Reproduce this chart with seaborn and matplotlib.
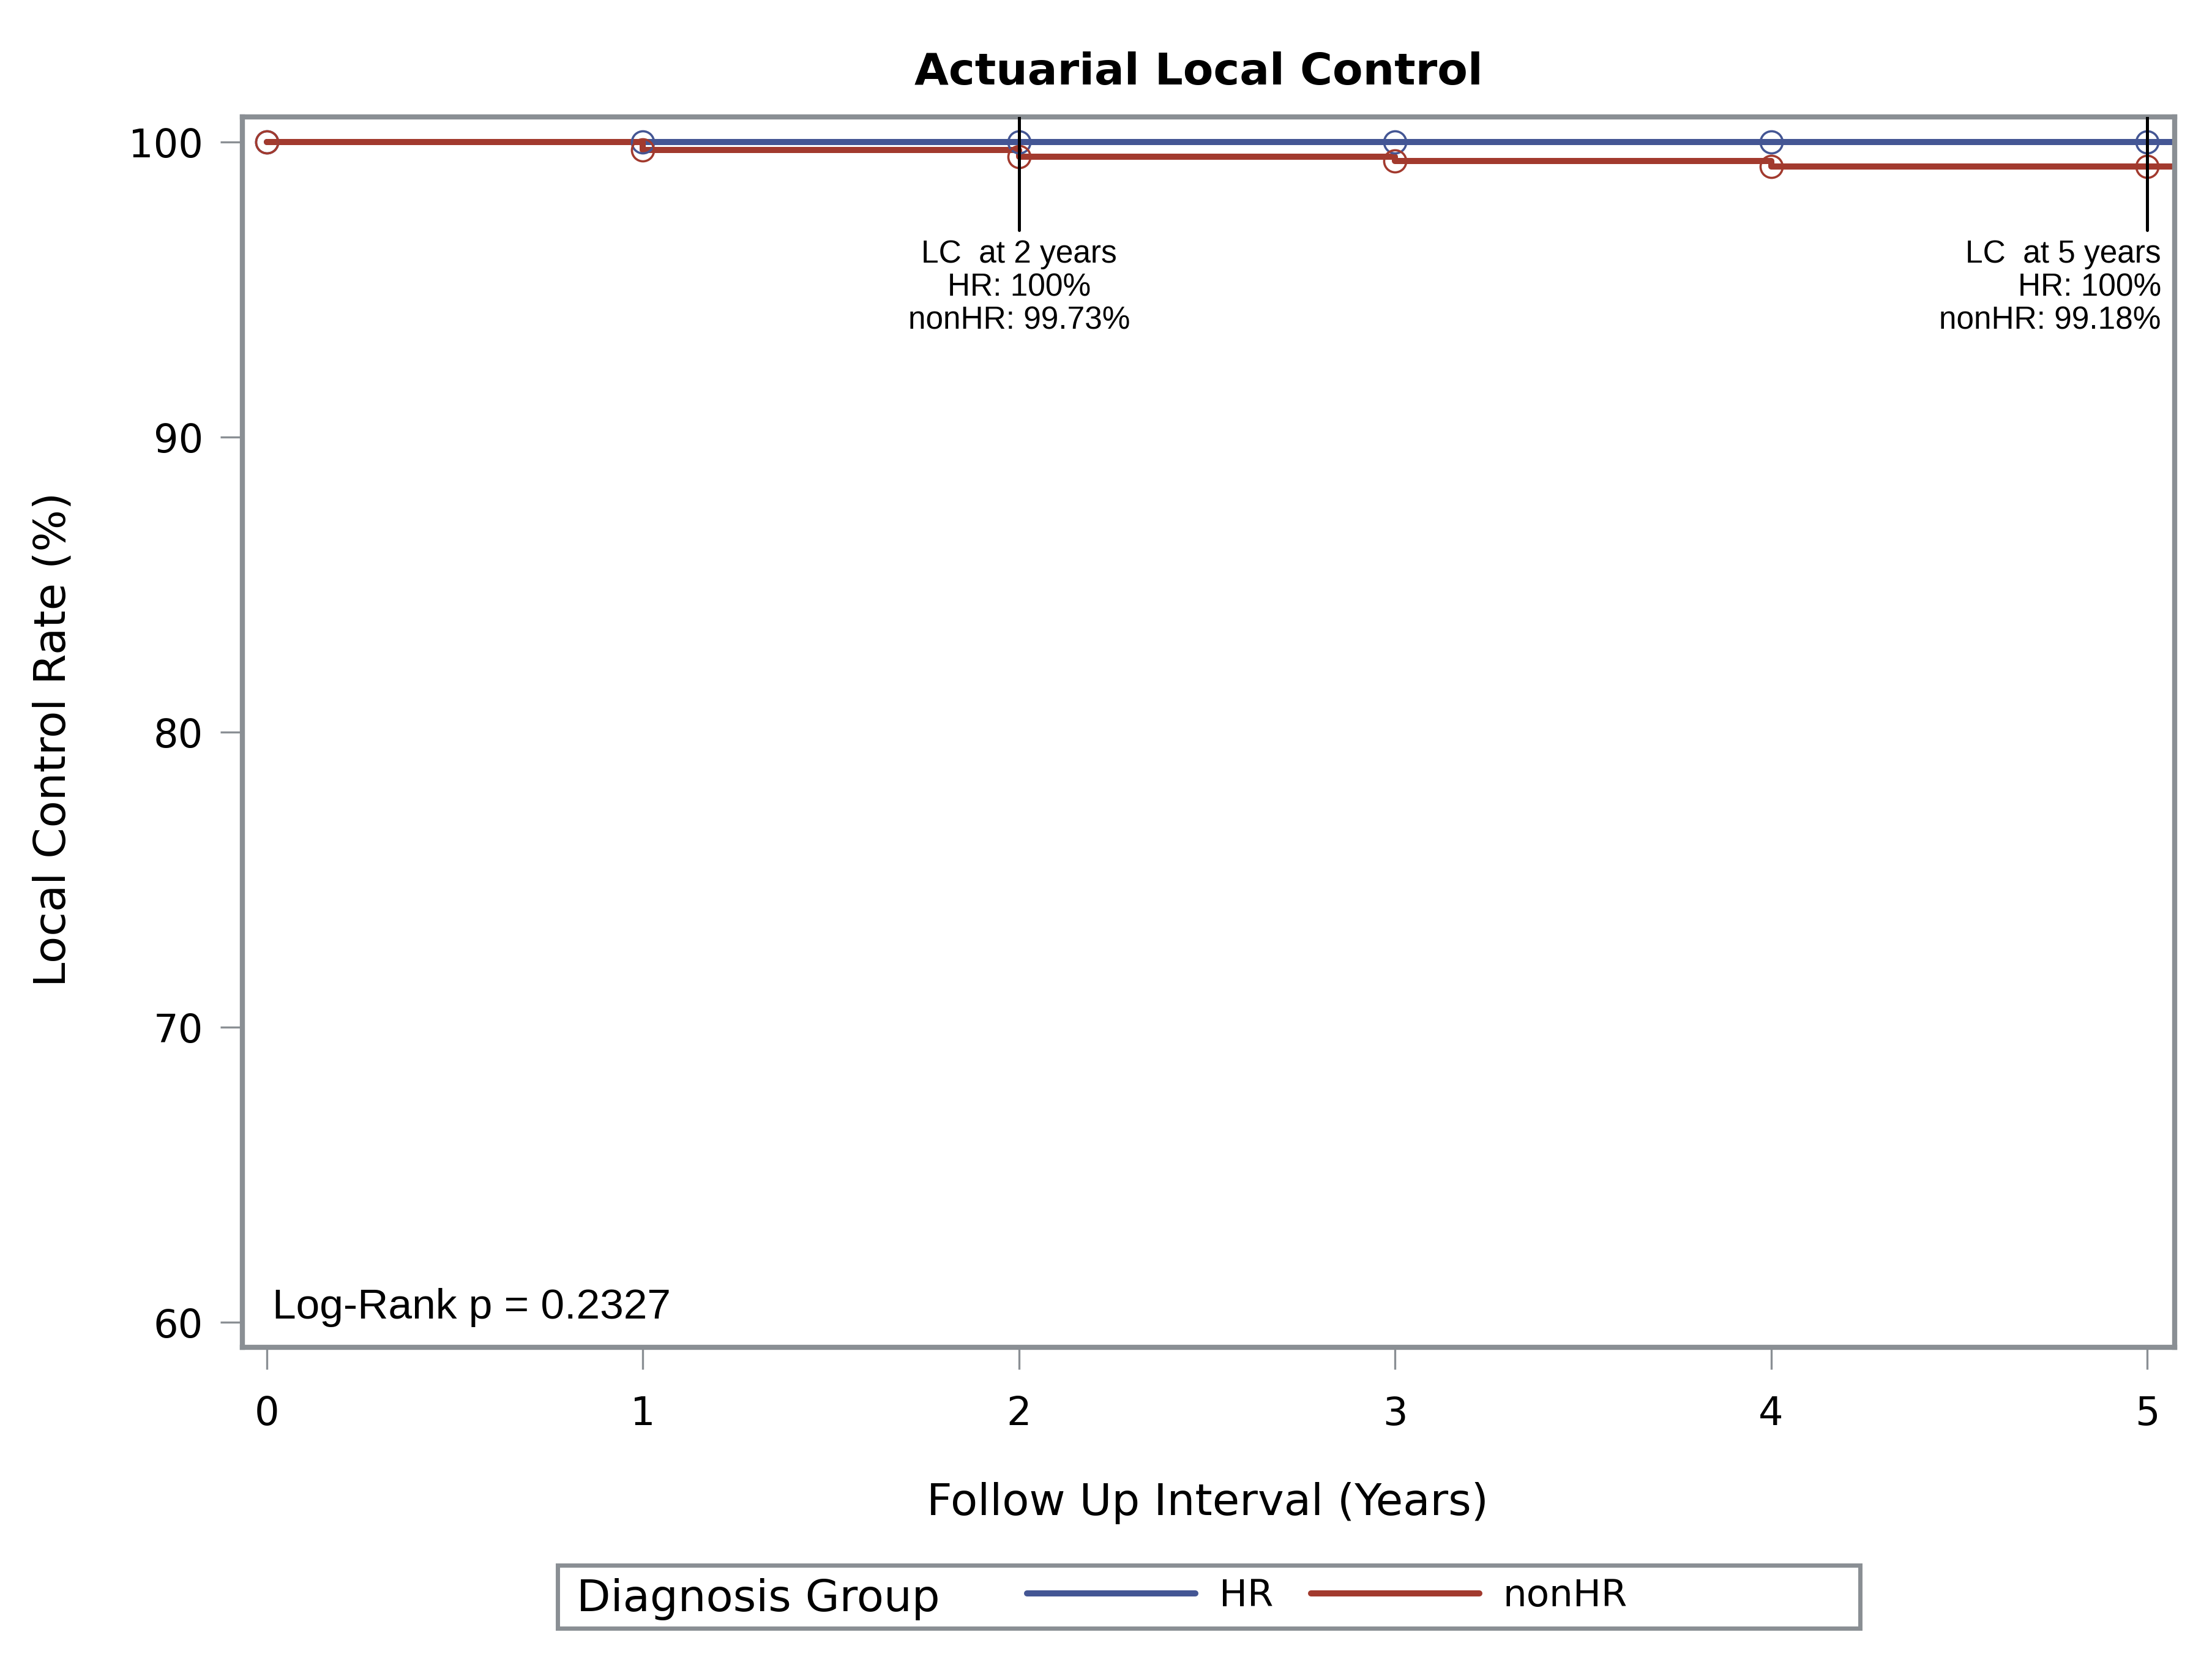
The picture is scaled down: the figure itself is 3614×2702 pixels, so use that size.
import matplotlib
matplotlib.use('Agg')
import numpy as np
import pandas as pd
import matplotlib.pyplot as plt
from matplotlib.patches import Rectangle
from matplotlib.lines import Line2D
import seaborn as sns

YEARS = [0, 1, 2, 3, 4, 5]
HR_RATE = [100.0, 100.0, 100.0, 100.0, 100.0, 100.0]
NONHR_RATE = [100.0, 99.73, 99.52, 99.37, 99.18, 99.18]
GROUPS = ['HR', 'nonHR']
COLORS = {'HR': '#445694', 'nonHR': '#A23A2E'}

LC_YEARS = [2, 5]
LC_HR = [100, 100]
LC_NONHR = [99.73, 99.18]
LOGRANK_P = 0.2327

Y_TICKS = [60, 70, 80, 90, 100]
X_LIM = (-0.065, 5.073)
Y_LIM = (59.15, 100.86)

GRAY = '#8a8f94'

sns.set_theme(style='white')
plt.rcParams['font.family'] = ['DejaVu Sans']
plt.rcParams['text.color'] = 'black'
plt.rcParams['axes.labelcolor'] = 'black'

# long-form tables: markers at the interval starts, lines carried to the axis edge
rows = []
for g, vals in zip(GROUPS, [HR_RATE, NONHR_RATE]):
    for t, v in zip(YEARS, vals):
        rows.append({'time': t, 'rate': v, 'group': g})
pts = pd.DataFrame(rows)
ext = pts.groupby('group', as_index=False).last()
ext['time'] = X_LIM[1]
lines = pd.concat([pts, ext], ignore_index=True)

fig = plt.figure(figsize=(18.07, 13.51), dpi=200)
ax = fig.add_axes([0.1096, 0.1854, 0.8735, 0.7439])

sns.lineplot(data=lines, x='time', y='rate', hue='group', hue_order=GROUPS,
             palette=COLORS, drawstyle='steps-post', errorbar=None,
             linewidth=3.6, legend=False, ax=ax)
n_step = len(ax.lines)
sns.lineplot(data=pts, x='time', y='rate', hue='group', hue_order=GROUPS,
             palette=COLORS, errorbar=None, linestyle='none', marker='o',
             markersize=13, markerfacecolor='none', markeredgewidth=1.3,
             legend=False, ax=ax)
# seaborn paints marker edges white by default; use the group colour instead
for ln in ax.lines[n_step:]:
    ln.set_markeredgecolor(ln.get_color())

ax.set_xlim(*X_LIM)
ax.set_ylim(*Y_LIM)
ax.set_xticks(YEARS)
ax.set_yticks(Y_TICKS)
ax.tick_params(axis='both', which='major', direction='out', length=13,
               width=1.2, color=GRAY, labelsize=23, labelcolor='black',
               bottom=True, left=True)
ax.tick_params(axis='x', pad=15)
ax.tick_params(axis='y', pad=10)
for sp in ax.spines.values():
    sp.set_color(GRAY)
    sp.set_linewidth(3)

# LC annotations
for yr, hr, nh in zip(LC_YEARS, LC_HR, LC_NONHR):
    ax.axvline(yr, ymin=0.908, ymax=1.0, color='black', linewidth=1.8, zorder=5)
    last = yr == max(LC_YEARS)
    ax.text(yr + (0.037 if last else 0.0), 96.72,
            f'LC  at {yr} years\nHR: {hr:g}%\nnonHR: {nh:.2f}%',
            ha='right' if last else 'center', va='top',
            multialignment='right' if last else 'center',
            fontsize=18.5, family='Liberation Sans', linespacing=1.15)

ax.text(0.015, 60.12, f'Log-Rank p = {LOGRANK_P}', ha='left', va='baseline',
        fontsize=25, family='Liberation Sans')

ax.set_xlabel('')
ax.set_ylabel('')
fig.text(0.546, 0.084, 'Follow Up Interval (Years)', ha='center',
         va='baseline', fontsize=26)
fig.text(0.024, 0.553, 'Local Control Rate (%)', ha='center', va='center',
         rotation=90, fontsize=26)
fig.text(0.542, 0.949, 'Actuarial Local Control', ha='center',
         va='baseline', fontsize=26, fontweight='bold')

# legend strip along the bottom
fig.patches.append(Rectangle((0.252, 0.0155), 0.589, 0.0382,
                             transform=fig.transFigure, fill=False,
                             edgecolor=GRAY, linewidth=2.5))
fig.text(0.2607, 0.0259, 'Diagnosis Group', ha='left', va='baseline',
         fontsize=26)
handles = [Line2D([], [], color=COLORS[g], linewidth=3.6) for g in GROUPS]
fig.legend(handles, GROUPS, loc='center left', bbox_to_anchor=(0.4643, 0.0348),
           ncol=2, frameon=False, fontsize=22, handlelength=4.5,
           handletextpad=0.64, columnspacing=1.0, borderpad=0,
           borderaxespad=0)

fig.savefig('out.png', dpi=200)
